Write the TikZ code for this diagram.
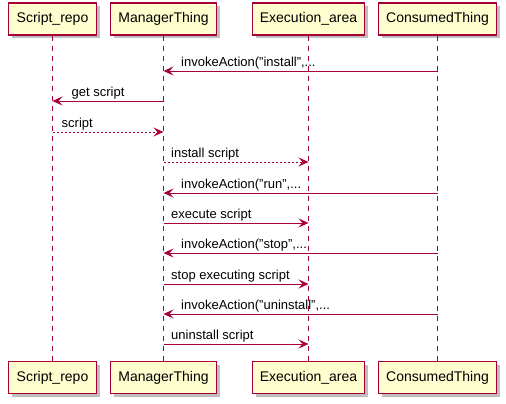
\documentclass[tikz,border=0pt]{standalone}
\usepackage{fontspec}
\setmainfont{Liberation Sans}
\usetikzlibrary{arrows.meta,shadows}
\definecolor{pborder}{HTML}{A80036}
\definecolor{pfill}{HTML}{FEFECE}
\begin{document}
\begin{tikzpicture}[x=1pt,y=-1pt,
  part/.style={draw=pborder,fill=pfill,line width=1.1pt,minimum height=32pt,inner sep=0pt,
    font=\fontsize{14}{16}\selectfont,
    general shadow={shadow xshift=3.5pt,shadow yshift=-3.5pt,fill=black,opacity=0.25}},
  life/.style={draw=pborder,line width=0.8pt,dash pattern=on 5pt off 5pt},
  msg/.style={draw=pborder,line width=0.9pt,-{Stealth[length=10pt,width=9pt,inset=4pt]}},
  reply/.style={msg,dash pattern=on 2pt off 2pt},
  lbl/.style={anchor=base west,inner sep=0pt,font=\fontsize{13}{15}\selectfont}]
\useasboundingbox (0,0) rectangle (506,404);
% top participants
\node[part,minimum width=88pt]  (sr) at (52.5,19) {Script\_repo};
\node[part,minimum width=106pt] (mt) at (163.5,19) {ManagerThing};
\node[part,minimum width=112pt] (ea) at (308.5,19) {Execution\_area};
\node[part,minimum width=118pt] (ct) at (437.5,19) {ConsumedThing};
% bottom participants
\node[part,minimum width=88pt]  (sr2) at (52.5,377.5) {Script\_repo};
\node[part,minimum width=106pt] (mt2) at (163.5,377.5) {ManagerThing};
\node[part,minimum width=112pt] (ea2) at (308.5,377.5) {Execution\_area};
\node[part,minimum width=118pt] (ct2) at (437.5,377.5) {ConsumedThing};
% lifelines
\draw[life] (sr.south) -- (sr2.north);
\draw[life] (mt.south) -- (mt2.north);
\draw[life] (ea.south) -- (ea2.north);
\draw[life] (ct.south) -- (ct2.north);
% message endpoints
\foreach \n/\y in {1/71,2/101,3/132,4/162,5/193,6/223,7/253,8/284,9/314,10/344}{
  \coordinate (sr\n) at (sr |- 0,\y);
  \coordinate (mt\n) at (mt |- 0,\y);
  \coordinate (ea\n) at (ea |- 0,\y);
  \coordinate (ct\n) at (ct |- 0,\y);
}
% messages
\draw[msg] (ct1) -- (mt1);
\node[lbl] (l1) at ([xshift=17.5pt,yshift=4.5pt]mt1) {invokeAction("install",...};
\draw[msg] (mt2) -- (sr2);
\node[lbl] (l2) at ([xshift=19pt,yshift=4.5pt]sr2) {get script};
\draw[reply] (sr3) -- (mt3);
\node[lbl] (l3) at ([xshift=9pt,yshift=4.5pt]sr3) {script};
\draw[reply] (mt4) -- (ea4);
\node[lbl] (l4) at ([xshift=7.5pt,yshift=4.5pt]mt4) {install script};
\draw[msg] (ct5) -- (mt5);
\node[lbl] (l5) at ([xshift=17.5pt,yshift=4.5pt]mt5) {invokeAction("run",...};
\draw[msg] (mt6) -- (ea6);
\node[lbl] (l6) at ([xshift=7.5pt,yshift=4.5pt]mt6) {execute script};
\draw[msg] (ct7) -- (mt7);
\node[lbl] (l7) at ([xshift=17.5pt,yshift=4.5pt]mt7) {invokeAction("stop",...};
\draw[msg] (mt8) -- (ea8);
\node[lbl] (l8) at ([xshift=7.5pt,yshift=4.5pt]mt8) {stop executing script};
\draw[msg] (ct9) -- (mt9);
\node[lbl] (l9) at ([xshift=17.5pt,yshift=4.5pt]mt9) {invokeAction("uninstall",...};
\draw[msg] (mt10) -- (ea10);
\node[lbl] (l10) at ([xshift=7.5pt,yshift=4.5pt]mt10) {uninstall script};
\end{tikzpicture}
\end{document}
